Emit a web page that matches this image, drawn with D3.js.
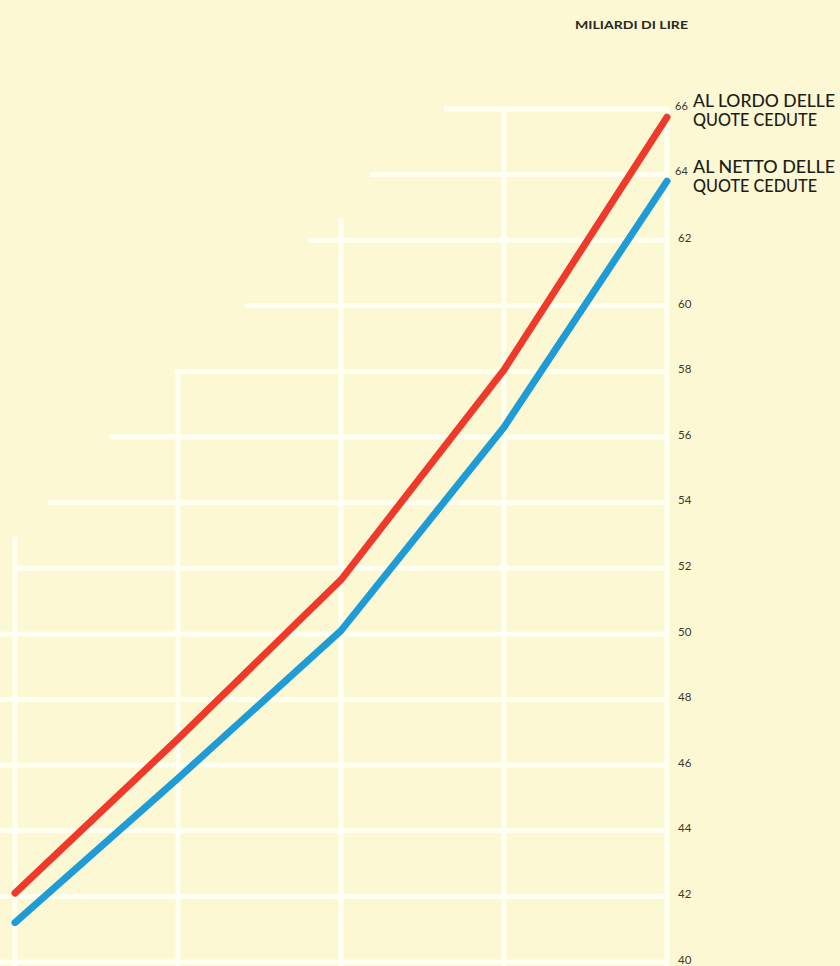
<!DOCTYPE html>
<html>
<head>
<meta charset="utf-8">
<script src="https://cdn.jsdelivr.net/npm/d3@7/dist/d3.min.js"></script>
<style>
  html, body { margin: 0; padding: 0; background: #fcf9d6; }
  svg { display: block; }
</style>
</head>
<body>
<div id="chart"></div>
<script>
// ---- data ----
const periods = ["P1", "P2", "P3", "P4", "P5"];            // unlabeled periods on the x axis
const lordo   = [42.1, 46.8, 51.65, 58.05, 65.75];          // AL LORDO DELLE QUOTE CEDUTE
const netto   = [41.2, 45.6, 50.1, 56.3, 63.8];             // AL NETTO DELLE QUOTE CEDUTE
const tickValues = [40, 42, 44, 46, 48, 50, 52, 54, 56, 58, 60, 62, 64, 66];
// staircase of the background grid (in period-index units / data values)
const gridStart = [-0.2, -0.2, -0.2, -0.2, -0.2, -0.2, -0.01, 0.2, 0.58, 0.98, 1.41, 1.8, 2.18, 2.63];
const vGridTop  = [52.9, 57.9, 62.6, 66, 66];
const unitLabel = "MILIARDI DI LIRE";
const seriesLabels = [["AL LORDO DELLE", "QUOTE CEDUTE"], ["AL NETTO DELLE", "QUOTE CEDUTE"]];
const seriesAnchor = [66, 64];

// ---- layout ----
const W = 840, H = 966;
const svg = d3.select("#chart").append("svg").attr("width", W).attr("height", H);
svg.append("rect").attr("width", W).attr("height", H).attr("fill", "#fbf8d3");

const x = d3.scaleLinear().domain([0, periods.length - 1]).range([15, 667]);
const y = d3.scaleLinear().domain([40, 66]).range([962, 109]);

// grid
const grid = svg.append("g").attr("stroke", "#fffff2").attr("stroke-width", 5);
grid.selectAll("line.h").data(tickValues).join("line").attr("class", "h")
  .attr("x1", (d, i) => x(gridStart[i])).attr("x2", x(periods.length - 1))
  .attr("y1", d => y(d)).attr("y2", d => y(d));
grid.selectAll("line.v").data(periods).join("line").attr("class", "v")
  .attr("x1", (d, i) => x(i)).attr("x2", (d, i) => x(i))
  .attr("y1", (d, i) => y(vGridTop[i]) - 2).attr("y2", H);

// axis on the right
const axis = d3.axisRight(y).tickValues(tickValues).tickSize(0).tickPadding(11);
const ag = svg.append("g").attr("transform", `translate(${x(periods.length - 1)},0)`).call(axis);
ag.select(".domain").remove();
ag.selectAll("text")
  .attr("font-family", "Lato, 'DejaVu Sans', sans-serif")
  .attr("font-size", 11.5)
  .attr("fill", "#3a3a30")
  .attr("dy", "0.1em");
ag.selectAll(".tick").filter(d => d >= 64).select("text")
  .attr("x", 8).attr("dy", "0.0em").attr("font-size", 11);

// lines
const line = d3.line().x((d, i) => x(i)).y(d => y(d)).curve(d3.curveLinear);
const series = [{ v: netto, c: "#1f9bd5" }, { v: lordo, c: "#ef3a2b" }];
svg.selectAll("path.s").data(series).join("path").attr("class", "s")
  .attr("d", d => line(d.v))
  .attr("fill", "none").attr("stroke", d => d.c)
  .attr("stroke-width", 7).attr("stroke-linecap", "round").attr("stroke-linejoin", "round");

// unit label
svg.append("text").text(unitLabel)
  .attr("x", 575).attr("y", 29)
  .attr("font-family", "Lato, 'DejaVu Sans', sans-serif")
  .attr("font-weight", "bold").attr("font-size", 11.5)
  .attr("fill", "#2a2a22")
  .attr("textLength", 113).attr("lengthAdjust", "spacingAndGlyphs");

// series labels
seriesLabels.forEach((lines, k) => {
  const yy = y(seriesAnchor[k]);
  lines.forEach((t, j) => {
    svg.append("text").text(t)
      .attr("x", 693).attr("y", yy - 2 + j * 19)
      .attr("font-family", "Lato, 'DejaVu Sans', sans-serif")
      .attr("font-size", 17.5).attr("font-weight", 500)
      .attr("fill", "#1e1e18")
      .attr("textLength", j === 0 ? 142 : 124).attr("lengthAdjust", "spacingAndGlyphs");
  });
});
</script>
</body>
</html>
